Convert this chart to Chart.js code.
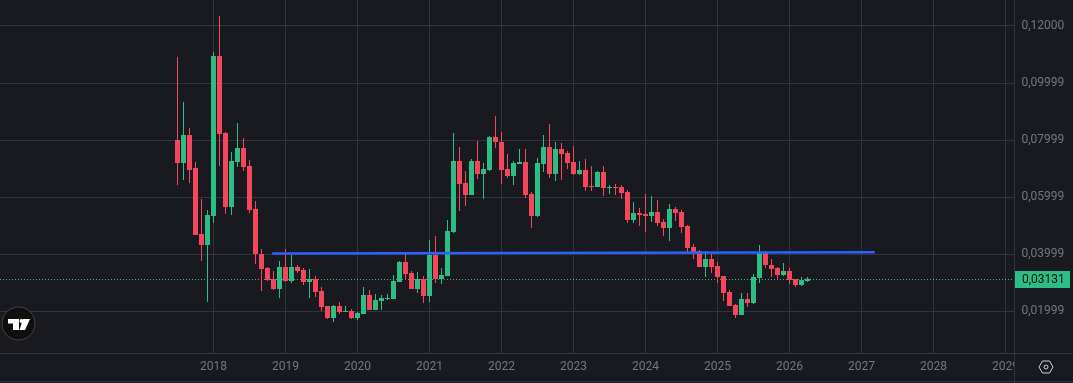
<!DOCTYPE html>
<html lang="en">
<head>
  <meta charset="UTF-8">
  <title>Monthly candles</title>
  <script src="https://cdn.jsdelivr.net/npm/chart.js"></script>
  <style>
    html, body { margin: 0; padding: 0; background: #181a20; overflow: hidden; }
    canvas { display: block; }
  </style>
</head>
<body>
<canvas id="candleChart" width="1073" height="383"></canvas>

<script>
// Monthly candles, first candle is 2017-07, last is 2026-04
const firstCandleMonth = '2017-07';
const opens = [
  .08000,.07193,.08175,.07018,.04702,.04316,
  .05333,.10947,.08246,.05649,.07228,.07719,.07088,.05579,.04000,.03509,.03123,.02772,
  .03544,.03053,.03544,.03439,.03018,.03123,.02702,.02175,.01754,.02175,.01965,.02000,
  .01754,.01895,.02561,.02035,.02351,.02421,.02421,.03018,.03719,.03333,.02772,.03123,
  .02526,.03965,.03123,.03228,.04772,.07263,.06491,.06070,.07263,.06807,.06947,.08105,
  .07930,.06982,.06737,.07158,.07228,.06105,.05333,.07158,.07754,.06807,.07684,.07544,
  .07228,.06807,.06947,.06386,.06351,.06877,.06316,.06351,.06351,.06175,.05193,.05439,
  .05404,.05333,.05474,.05123,.04912,.05579,.05474,.04982,.04246,.04105,.03544,.03825,
  .03579,.03228,.02667,.02211,.01860,.02421,.02281,.03158,.04070,.03614,.03509,.03263,
  .03404,.03123,.02912,.03053
];
const highs = [
  .10912,.09333,.08421,.07228,.05930,.05544,
  .11088,.12351,.08281,.07579,.08596,.08070,.07298,.05860,.04175,.03544,.03404,.03754,
  .04175,.03965,.03614,.03509,.03474,.03228,.02842,.02175,.02211,.02316,.02175,.02070,
  .01965,.02842,.02737,.02596,.02561,.02596,.03263,.03754,.04070,.03404,.03368,.03228,
  .04491,.04632,.03509,.05193,.08246,.07754,.06912,.07333,.07965,.07193,.08140,.08842,
  .08281,.07509,.07263,.07684,.07684,.06175,.07368,.08175,.08561,.07930,.07895,.07614,
  .07789,.07263,.07333,.07088,.06912,.07088,.06421,.06456,.06421,.06246,.05825,.05614,
  .06105,.06035,.05895,.05228,.05754,.05649,.05544,.05018,.04351,.04140,.04105,.04070,
  .03719,.03228,.02737,.02246,.02632,.02632,.03298,.04316,.04105,.03825,.03544,.03684,
  .03509,.03123,.03193,.03193
];
const lows = [
  .06421,.06596,.06491,.04667,.03754,.02316,
  .05088,.07088,.05404,.05368,.07053,.06912,.05439,.03649,.02702,.03053,.02737,.02456,
  .03018,.02982,.03333,.02912,.02456,.02491,.02000,.01719,.01614,.01895,.01965,.01719,
  .01684,.01895,.02035,.02035,.02035,.02386,.02421,.03018,.03088,.02772,.02632,.02281,
  .02316,.02982,.02947,.03228,.04737,.05509,.05684,.06070,.06632,.05930,.06912,.07719,
  .06456,.06667,.06421,.07158,.05965,.04912,.05298,.06877,.06667,.06561,.06596,.06982,
  .06772,.06772,.06211,.06211,.06351,.06035,.06105,.06070,.05930,.05088,.05088,.04982,
  .04772,.05123,.04982,.04632,.04456,.05158,.04737,.04000,.03825,.03544,.03193,.03333,
  .02982,.02351,.02175,.01754,.01860,.02140,.02246,.02982,.03509,.03193,.03088,.03228,
  .02947,.02842,.02877,.03018
];
const closes = [
  .07193,.08175,.06947,.04667,.04316,.05368,
  .10947,.08211,.05649,.07263,.07719,.07053,.05544,.04000,.03474,.03088,.02772,.03544,
  .03053,.03544,.03404,.03018,.03123,.02667,.02140,.01754,.02175,.01965,.02000,.01754,
  .01930,.02561,.02035,.02386,.02456,.02456,.03053,.03719,.03298,.02772,.03123,.02526,
  .03965,.03123,.03263,.04807,.07263,.06456,.06070,.07263,.06807,.06982,.08105,.07930,
  .06947,.06737,.07193,.07228,.06070,.05333,.07193,.07754,.06807,.07684,.07509,.07193,
  .06807,.06947,.06351,.06351,.06877,.06316,.06351,.06316,.06140,.05193,.05439,.05368,
  .05333,.05474,.05088,.04912,.05579,.05439,.04947,.04211,.04035,.03544,.03825,.03544,
  .03193,.02632,.02175,.01860,.02421,.02281,.03193,.04070,.03614,.03474,.03263,.03404,
  .03088,.02912,.03088,.03131
];

const yTicks = [0.12, 0.09999, 0.07999, 0.05999, 0.03999, 0.01999];
const lastPrice = 0.03131;
const firstYearTick = 2018;

// Drawn horizontal level
const levelMonths = ['2018-11', '2027-03'];
const levelValues = [0.04018, 0.04060];

// Month axis, 2015-02 to 2029-02, only the Januaries get a label
const axisMonths = [];
for (let y = 2015; y <= 2029; y++) {
  for (let m = 1; m <= 12; m++) {
    if ((y === 2015 && m < 2) || (y === 2029 && m > 2)) continue;
    axisMonths.push(y + '-' + String(m).padStart(2, '0'));
  }
}

const BG = '#181a20';
const GRID = '#2f343e';
const TEXT = '#6f7785';
const UP = '#2ebd85';
const DOWN = '#f6465d';
const FONT = { family: 'Roboto', size: 12 };

const startIdx = axisMonths.indexOf(firstCandleMonth);
const bodies = axisMonths.map(() => null);
const wicks = axisMonths.map(() => null);
const colors = axisMonths.map(() => UP);
opens.forEach((o, i) => {
  bodies[startIdx + i] = [o, closes[i]];
  wicks[startIdx + i] = [lows[i], highs[i]];
  colors[startIdx + i] = closes[i] >= o ? UP : DOWN;
});
const level = axisMonths.map(m => {
  const i = levelMonths.indexOf(m);
  return i === -1 ? null : levelValues[i];
});

function priceText(v) {
  return v.toFixed(5).replace('.', ',');
}

// Dotted last price line, goes under the candles
const priceLine = {
  id: 'priceLine',
  beforeDatasetsDraw(chart) {
    const c = chart.ctx;
    const y = Math.round(chart.scales.y.getPixelForValue(lastPrice)) + 0.5;
    c.save();
    c.strokeStyle = UP;
    c.lineWidth = 1;
    c.setLineDash([1, 2]);
    c.beginPath();
    c.moveTo(0, y);
    c.lineTo(chart.chartArea.right, y);
    c.stroke();
    c.restore();
  }
};

// Axis frame, price tag, settings icon and logo
const overlay = {
  id: 'overlay',
  afterDraw(chart) {
    const c = chart.ctx;
    const right = chart.chartArea.right;
    const bottom = chart.chartArea.bottom;
    c.save();

    // cuts the 2029 label at the price axis
    c.fillStyle = BG;
    c.fillRect(right, bottom + 1, 1073 - right, 27);

    c.strokeStyle = GRID;
    c.lineWidth = 1;
    c.beginPath();
    c.moveTo(0, 353.5); c.lineTo(1073, 353.5);
    c.moveTo(0, 381.5); c.lineTo(1073, 381.5);
    c.moveTo(1014.5, 0); c.lineTo(1014.5, 383);
    c.stroke();

    // last price tag
    const y = chart.scales.y.getPixelForValue(lastPrice);
    c.fillStyle = UP;
    c.fillRect(1015, Math.round(y) - 8, 55, 17);
    c.fillStyle = '#0b0e11';
    c.font = '12px Roboto';
    c.textBaseline = 'middle';
    c.fillText(priceText(lastPrice), 1022, Math.round(y) + 0.5);

    // settings hexagon
    c.strokeStyle = '#d1d4dc';
    c.lineWidth = 1;
    c.beginPath();
    c.moveTo(1039, 367); c.lineTo(1042.5, 361); c.lineTo(1049.5, 361);
    c.lineTo(1053, 367); c.lineTo(1049.5, 373); c.lineTo(1042.5, 373);
    c.closePath();
    c.moveTo(1048, 367);
    c.arc(1046, 367, 2, 0, Math.PI * 2);
    c.stroke();

    // logo badge
    c.fillStyle = '#0f0f0f';
    c.strokeStyle = '#444444';
    c.beginPath();
    c.arc(18.5, 323.5, 16.5, 0, Math.PI * 2);
    c.fill();
    c.stroke();
    c.fillStyle = '#ffffff';
    c.beginPath();
    c.moveTo(8, 319); c.lineTo(19, 319); c.lineTo(19, 330); c.lineTo(13, 330);
    c.lineTo(13, 323.5); c.lineTo(8, 323.5);
    c.closePath();
    c.moveTo(23, 319); c.lineTo(30, 319); c.lineTo(25, 330); c.lineTo(19.5, 330);
    c.closePath();
    c.fill();
    c.beginPath();
    c.arc(21.5, 321, 2, 0, Math.PI * 2);
    c.fill();

    c.restore();
  }
};

new Chart(document.getElementById('candleChart'), {
  type: 'bar',
  data: {
    labels: axisMonths,
    datasets: [
      {
        type: 'line',
        data: level,
        spanGaps: true,
        borderColor: '#2962ff',
        borderWidth: 2.5,
        borderCapStyle: 'square',
        pointRadius: 0,
        order: 0
      },
      {
        data: bodies,
        backgroundColor: colors,
        barThickness: 5,
        minBarLength: 1,
        inflateAmount: 0,
        grouped: false,
        order: 1
      },
      {
        data: wicks,
        backgroundColor: colors,
        barThickness: 1,
        inflateAmount: 0,
        grouped: false,
        order: 2
      }
    ]
  },
  options: {
    responsive: false,
    animation: false,
    devicePixelRatio: 1,
    layout: { padding: { left: 0.5 } },
    plugins: { legend: { display: false }, tooltip: { enabled: false } },
    scales: {
      x: {
        grid: { color: GRID, offset: false, drawTicks: false },
        border: { display: false },
        ticks: {
          color: TEXT,
          font: FONT,
          padding: 7,
          autoSkip: false,
          maxRotation: 0,
          callback(value) {
            return this.getLabelForValue(value).slice(0, 4);
          }
        },
        afterBuildTicks(scale) {
          scale.ticks = scale.ticks.filter(t => {
            const m = axisMonths[t.value];
            return m.endsWith('-01') && Number(m.slice(0, 4)) >= firstYearTick;
          });
        },
        afterFit(scale) {
          scale.height = 30;
          scale.paddingLeft = 0;
          scale.paddingRight = 0;
        }
      },
      y: {
        position: 'right',
        min: 0.00526,
        max: 0.12912,
        grid: { color: GRID, drawTicks: false },
        border: { display: false },
        ticks: {
          color: TEXT,
          font: FONT,
          padding: 7,
          callback(value) {
            return priceText(value);
          }
        },
        afterBuildTicks(scale) {
          scale.ticks = yTicks.map(v => ({ value: v }));
        },
        afterFit(scale) {
          scale.width = 58.5;
          scale.paddingTop = 0;
          scale.paddingBottom = 0;
        }
      }
    }
  },
  plugins: [priceLine, overlay]
});
</script>
</body>
</html>
